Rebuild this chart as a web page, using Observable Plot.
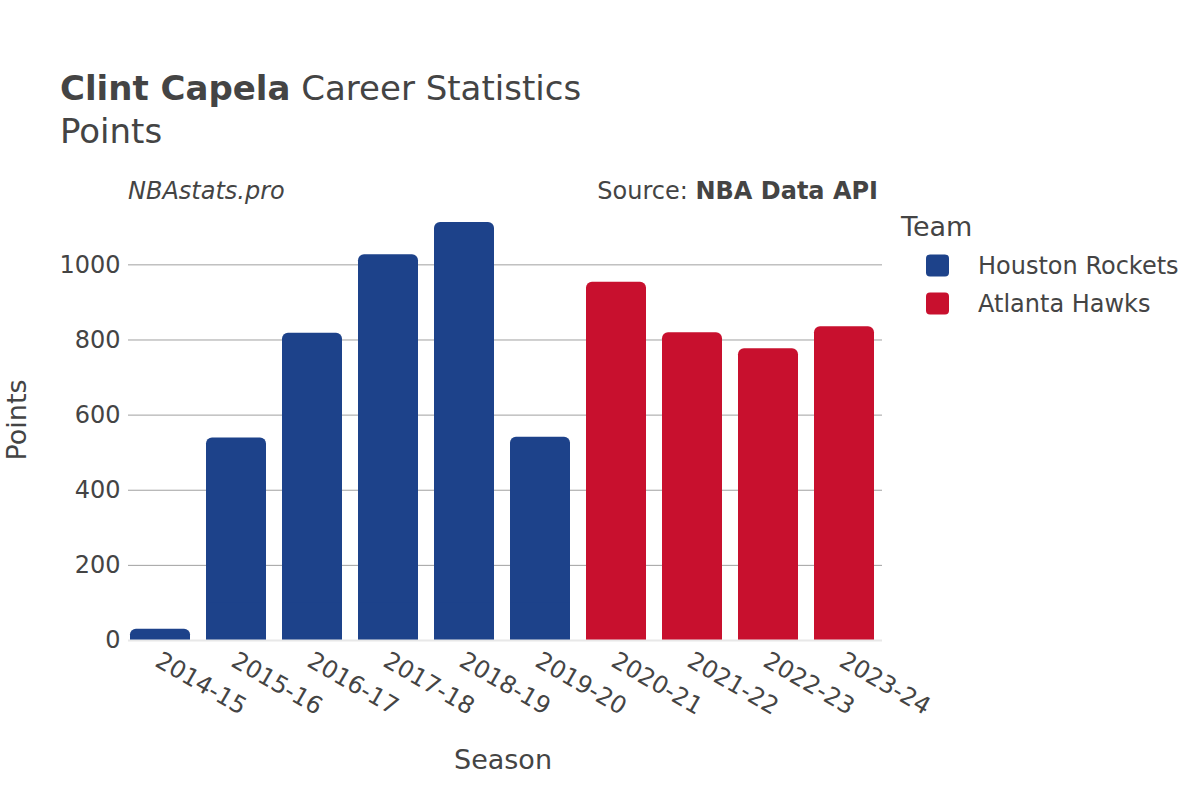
<!DOCTYPE html>
<html>
<head>
<meta charset="utf-8">
<script src="https://cdn.jsdelivr.net/npm/d3@7"></script>
<script src="https://cdn.jsdelivr.net/npm/@observablehq/plot@0.6"></script>
<style>
  html, body { margin: 0; padding: 0; background: #fff; }
  #wrap { position: relative; width: 1200px; height: 800px; font-family: "DejaVu Sans", sans-serif; }
  #overlay { position: absolute; left: 0; top: 0; pointer-events: none; }
</style>
</head>
<body>
<div id="wrap"></div>
<script>
const seasons = ["2014-15","2015-16","2016-17","2017-18","2018-19","2019-20","2020-21","2021-22","2022-23","2023-24"];
const teams = ["Houston Rockets","Houston Rockets","Houston Rockets","Houston Rockets","Houston Rockets","Houston Rockets","Atlanta Hawks","Atlanta Hawks","Atlanta Hawks","Atlanta Hawks"];
const points = [30, 539, 818, 1027, 1113, 541, 954, 819, 777, 835];
const teamNames = ["Houston Rockets", "Atlanta Hawks"];
const teamColors = ["#1d428a", "#c8102e"];
const yTicks = [0, 200, 400, 600, 800, 1000];

const data = seasons.map((s, i) => ({season: s, team: teams[i], points: points[i]}));

const chart = Plot.plot({
  width: 1200,
  height: 800,
  marginLeft: 128,
  marginRight: 318,
  marginTop: 202,
  marginBottom: 160,
  style: {fontFamily: "DejaVu Sans", fontSize: "24px", color: "#444", background: "transparent"},
  x: {domain: seasons, range: [128, 876], paddingInner: 0.21, paddingOuter: 0.026, label: null},
  y: {domain: [0, 1166], label: null},
  color: {domain: teamNames, range: teamColors},
  marks: [
    Plot.ruleY(yTicks.filter(t => t > 0), {stroke: "#a0a0a0", strokeWidth: 1}),
    Plot.barY(data, {x: "season", y: "points", fill: "team", rx: 6}),
    Plot.barY(data, {x: "season", y: d => Math.min(d.points / 2, 100), fill: "team"}),
    Plot.ruleY([0], {stroke: "#e8e8e8", strokeWidth: 2}),
    Plot.axisY({ticks: yTicks, tickSize: 0, tickPadding: 8, label: null, tickFormat: d => String(d)}),
    Plot.axisX({tickSize: 0, tickRotate: 30, tickPadding: 14, dx: -3, dy: 4, label: null})
  ]
});

const wrap = document.getElementById("wrap");
wrap.appendChild(chart);

const svg = d3.select(wrap).append("svg")
  .attr("id", "overlay")
  .attr("width", 1200).attr("height", 800)
  .style("font-family", "'DejaVu Sans', sans-serif")
  .attr("fill", "#444");

const title = svg.append("text").attr("x", 60).attr("y", 100).attr("font-size", 34);
title.append("tspan").attr("font-weight", "bold").text("Clint Capela");
title.append("tspan").text(" Career Statistics");

svg.append("text").attr("x", 60).attr("y", 143).attr("font-size", 34).text("Points");

svg.append("text").attr("x", 128).attr("y", 199).attr("font-size", 24)
  .attr("font-style", "italic").text("NBAstats.pro");

const src = svg.append("text").attr("x", 878).attr("y", 199).attr("font-size", 24).attr("text-anchor", "end");
src.append("tspan").text("Source: ");
src.append("tspan").attr("font-weight", "bold").text("NBA Data API");

svg.append("text").attr("transform", "translate(26,420) rotate(-90)")
  .attr("text-anchor", "middle").attr("font-size", 27).text("Points");

svg.append("text").attr("x", 503).attr("y", 769).attr("text-anchor", "middle")
  .attr("font-size", 27).text("Season");

svg.append("text").attr("x", 901).attr("y", 236).attr("font-size", 27).text("Team");

const leg = svg.selectAll("g.leg").data(teamNames).join("g").attr("class", "leg")
  .attr("transform", (d, i) => `translate(0,${i * 38})`);
leg.append("rect").attr("x", 926).attr("y", 254.5).attr("width", 23).attr("height", 22)
  .attr("rx", 4).attr("fill", (d, i) => teamColors[i]);
leg.append("text").attr("x", 978).attr("y", 274).attr("font-size", 24).text(d => d);
</script>
</body>
</html>
